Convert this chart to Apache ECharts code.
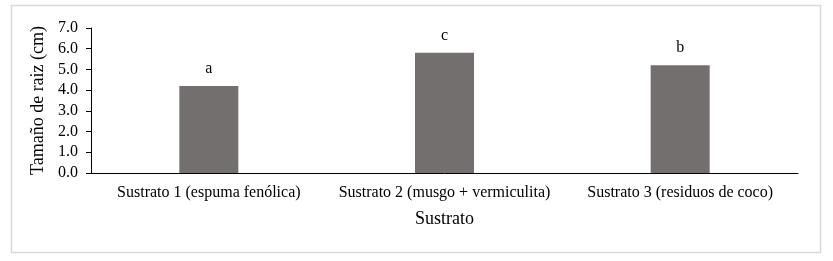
<!DOCTYPE html>
<html>
<head>
<meta charset="utf-8">
<script src="https://cdn.jsdelivr.net/npm/echarts@6/dist/echarts.min.js"></script>
<style>
html,body{margin:0;padding:0;background:#fff;}
#c{width:833px;height:261px;}
</style>
</head>
<body>
<div id="c"></div>
<script>
var categories = ['Sustrato 1 (espuma fenólica)', 'Sustrato 2 (musgo + vermiculita)', 'Sustrato 3 (residuos de coco)'];
var rootLength = [4.2, 5.8, 5.2];
var letters = ['a', 'c', 'b'];
var yTicks = [0, 1, 2, 3, 4, 5, 6, 7];
var xTitle = 'Sustrato';
var yTitle = 'Tamaño de raiz (cm)';

var font = '"Liberation Serif", "Times New Roman", serif';
var chart = echarts.init(document.getElementById('c'));
chart.setOption({
  animation: false,
  backgroundColor: '#fff',
  graphic: [{
    type: 'rect',
    shape: {x: 11.5, y: 5.5, width: 809, height: 247},
    style: {fill: 'none', stroke: '#d9d9d9', lineWidth: 1.5},
    silent: true
  }],
  grid: {left: 91, right: 35, top: 28, bottom: 88, containLabel: false},
  xAxis: {
    type: 'category',
    data: categories,
    name: xTitle,
    nameLocation: 'middle',
    nameGap: 37,
    nameTextStyle: {fontFamily: font, fontSize: 18, color: '#000'},
    axisLine: {lineStyle: {color: '#000', width: 1}},
    axisTick: {show: false},
    axisLabel: {fontFamily: font, fontSize: 16, color: '#000', margin: 12, interval: 0}
  },
  yAxis: {
    type: 'value',
    min: yTicks[0],
    max: yTicks[yTicks.length - 1],
    interval: 1,
    name: yTitle,
    nameLocation: 'middle',
    nameGap: 38,
    nameTextStyle: {fontFamily: font, fontSize: 18, color: '#000'},
    axisLine: {show: true, lineStyle: {color: '#000', width: 1}},
    axisTick: {show: true, length: 5, lineStyle: {color: '#000'}},
    splitLine: {show: false},
    axisLabel: {fontFamily: font, fontSize: 16, color: '#000', margin: 13,
      formatter: function (v) { return v.toFixed(1); }}
  },
  series: [{
    type: 'bar',
    data: rootLength,
    barWidth: 59,
    itemStyle: {color: '#736f6e'},
    label: {
      show: true,
      position: 'top',
      distance: 9,
      fontFamily: font,
      fontSize: 16,
      color: '#000',
      formatter: function (p) { return letters[p.dataIndex]; }
    }
  }]
});
</script>
</body>
</html>
